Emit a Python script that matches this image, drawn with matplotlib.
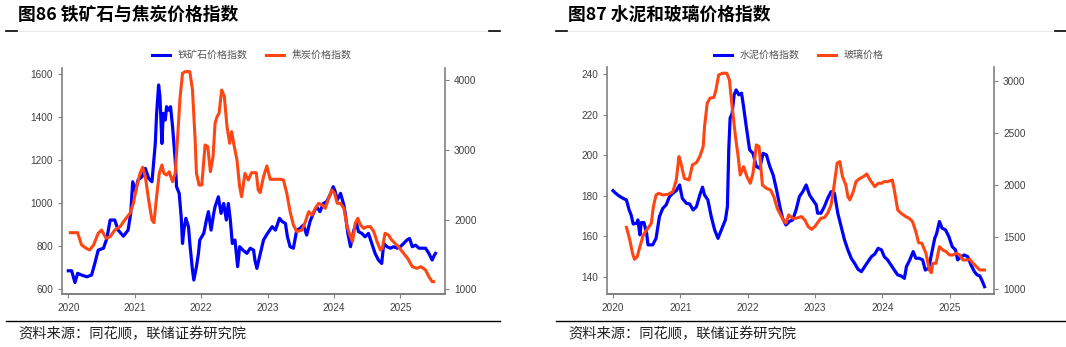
import matplotlib
matplotlib.use("Agg")
import matplotlib.pyplot as plt
from matplotlib.lines import Line2D

plt.rcParams['font.family'] = ['Noto Sans CJK SC', 'DejaVu Sans']

# ---- 图86 data (decimal year, value) ----
iron_t = [2020.00, 2020.05, 2020.10, 2020.14, 2020.20, 2020.28, 2020.35, 2020.40, 2020.45, 2020.53,
          2020.58, 2020.63, 2020.70, 2020.75, 2020.83, 2020.90, 2020.94, 2020.97, 2021.01, 2021.05,
          2021.11, 2021.16, 2021.21, 2021.26, 2021.31, 2021.33, 2021.36, 2021.38, 2021.41, 2021.43,
          2021.46, 2021.48, 2021.51, 2021.54, 2021.57, 2021.61, 2021.63, 2021.67, 2021.70, 2021.72,
          2021.74, 2021.77, 2021.81, 2021.83, 2021.87, 2021.89, 2021.93, 2021.96, 2021.98, 2022.04,
          2022.08, 2022.11, 2022.15, 2022.19, 2022.21, 2022.26, 2022.30, 2022.34, 2022.38, 2022.41,
          2022.44, 2022.47, 2022.51, 2022.55, 2022.58, 2022.63, 2022.69, 2022.74, 2022.79, 2022.81,
          2022.84, 2022.88, 2022.94, 2023.00, 2023.07, 2023.12, 2023.18, 2023.22, 2023.27, 2023.30,
          2023.34, 2023.39, 2023.44, 2023.49, 2023.54, 2023.59, 2023.64, 2023.69, 2023.74, 2023.79,
          2023.84, 2023.89, 2023.94, 2023.99, 2024.02, 2024.05, 2024.10, 2024.15, 2024.17, 2024.21,
          2024.25, 2024.30, 2024.34, 2024.37, 2024.42, 2024.47, 2024.52, 2024.57, 2024.62, 2024.67,
          2024.72, 2024.75, 2024.80, 2024.85, 2024.90, 2024.95, 2025.00, 2025.05, 2025.10, 2025.14,
          2025.18, 2025.23, 2025.28, 2025.33, 2025.38, 2025.43, 2025.48, 2025.50, 2025.53]
iron_v = [685, 685, 630, 673, 665, 657, 665, 720, 781, 790,
          835, 921, 921, 874, 846, 874, 952, 1099, 1053, 1107,
          1122, 1161, 1115, 1099, 1277, 1417, 1549, 1494, 1277, 1417,
          1386, 1448, 1432, 1448, 1355, 1200, 1076, 1045, 936, 812,
          874, 929, 890, 812, 688, 642, 704, 766, 828, 859,
          921, 960, 874, 952, 983, 1029, 952, 998, 921, 998,
          921, 812, 828, 704, 797, 781, 766, 790, 781, 735,
          696, 750, 828, 859, 890, 874, 929, 914, 905, 843,
          797, 790, 874, 882, 898, 851, 914, 952, 983, 960,
          998, 1006, 1037, 1076, 1053, 1014, 1045, 990, 952, 859,
          797, 874, 905, 867, 859, 843, 859, 812, 766, 735,
          719, 812, 797, 790, 797, 790, 797, 812, 828, 835,
          797, 804, 790, 790, 790, 766, 735, 750, 766]

coke_t = [2020.03, 2020.14, 2020.20, 2020.27, 2020.32, 2020.38, 2020.45, 2020.50, 2020.57, 2020.63,
          2020.70, 2020.78, 2020.85, 2020.93, 2020.98, 2021.03, 2021.08, 2021.12, 2021.16, 2021.21,
          2021.26, 2021.29, 2021.33, 2021.37, 2021.41, 2021.44, 2021.48, 2021.52, 2021.57, 2021.61,
          2021.65, 2021.68, 2021.72, 2021.76, 2021.83, 2021.87, 2021.91, 2021.93, 2021.97, 2022.01,
          2022.06, 2022.10, 2022.14, 2022.18, 2022.21, 2022.24, 2022.27, 2022.31, 2022.35, 2022.39,
          2022.43, 2022.46, 2022.49, 2022.54, 2022.58, 2022.61, 2022.66, 2022.71, 2022.76, 2022.83,
          2022.86, 2022.89, 2022.94, 2022.99, 2023.04, 2023.12, 2023.19, 2023.24, 2023.29, 2023.34,
          2023.39, 2023.44, 2023.52, 2023.57, 2023.62, 2023.67, 2023.72, 2023.77, 2023.82, 2023.87,
          2023.92, 2023.97, 2024.01, 2024.05, 2024.10, 2024.15, 2024.20, 2024.25, 2024.28, 2024.32,
          2024.36, 2024.40, 2024.45, 2024.50, 2024.55, 2024.60, 2024.65, 2024.70, 2024.73, 2024.77,
          2024.82, 2024.87, 2024.92, 2024.97, 2025.05, 2025.11, 2025.18, 2025.25, 2025.31, 2025.38,
          2025.43, 2025.48, 2025.50]
coke_v = [1812, 1812, 1635, 1588, 1564, 1635, 1803, 1850, 1731, 1755,
          1850, 1898, 1994, 2089, 2233, 2471, 2662, 2749, 2615, 2280,
          1994, 1956, 2328, 2662, 2782, 2662, 2638, 2686, 2543, 2662,
          3236, 3714, 4096, 4120, 4120, 3858, 3140, 2662, 2495, 2495,
          3069, 3045, 2686, 2902, 3379, 3475, 3523, 3857, 3762, 3332,
          3093, 3260, 3093, 2854, 2472, 2328, 2662, 2567, 2672, 2672,
          2424, 2386, 2615, 2768, 2577, 2577, 2577, 2567, 2376, 2113,
          1922, 1827, 1850, 1970, 2113, 2065, 2161, 2233, 2209, 2161,
          2304, 2424, 2376, 2233, 2233, 2161, 1898, 1755, 1683, 1946,
          2018, 1922, 1874, 1898, 1898, 1827, 1683, 1564, 1588, 1803,
          1779, 1707, 1659, 1612, 1516, 1444, 1325, 1301, 1325, 1277,
          1182, 1110, 1110]

# ---- 图87 data ----
cement_t = [2020.00, 2020.04, 2020.09, 2020.15, 2020.20, 2020.24, 2020.27, 2020.30, 2020.35, 2020.37,
            2020.40, 2020.42, 2020.46, 2020.50, 2020.52, 2020.59, 2020.64, 2020.69, 2020.74, 2020.79,
            2020.84, 2020.89, 2020.94, 2020.99, 2021.03, 2021.09, 2021.14, 2021.19, 2021.24, 2021.29,
            2021.33, 2021.36, 2021.41, 2021.46, 2021.51, 2021.56, 2021.59, 2021.63, 2021.67, 2021.70,
            2021.72, 2021.74, 2021.77, 2021.80, 2021.83, 2021.87, 2021.91, 2021.94, 2021.98, 2022.03,
            2022.08, 2022.13, 2022.18, 2022.23, 2022.28, 2022.33, 2022.38, 2022.43, 2022.48, 2022.52,
            2022.57, 2022.62, 2022.67, 2022.72, 2022.77, 2022.82, 2022.87, 2022.92, 2022.97, 2023.02,
            2023.04, 2023.09, 2023.14, 2023.19, 2023.24, 2023.29, 2023.34, 2023.39, 2023.44, 2023.49,
            2023.54, 2023.59, 2023.64, 2023.69, 2023.74, 2023.79, 2023.84, 2023.89, 2023.94, 2023.99,
            2024.03, 2024.08, 2024.13, 2024.18, 2024.23, 2024.28, 2024.33, 2024.36, 2024.41, 2024.46,
            2024.50, 2024.55, 2024.60, 2024.64, 2024.69, 2024.74, 2024.78, 2024.81, 2024.85, 2024.89,
            2024.94, 2024.99, 2025.04, 2025.09, 2025.12, 2025.17, 2025.22, 2025.27, 2025.32, 2025.37,
            2025.41, 2025.45, 2025.49, 2025.52]
cement_v = [182.5, 181.2, 179.9, 178.7, 177.9, 173.0, 170.5, 166.1, 166.4, 168.1,
            160.7, 166.8, 166.8, 161.5, 155.8, 155.8, 159.0, 169.7, 173.8, 175.5,
            179.6, 181.2, 182.5, 185.3, 178.7, 176.3, 175.9, 173.0, 174.6, 180.4,
            184.2, 180.4, 177.9, 169.7, 163.2, 159.0, 161.5, 164.8, 168.1, 174.6,
            202.6, 218.2, 220.6, 229.7, 232.1, 229.7, 230.5, 223.9, 214.1, 202.6,
            200.9, 194.4, 193.5, 200.9, 200.1, 194.4, 190.2, 182.9, 174.6, 168.9,
            165.6, 167.3, 168.1, 173.0, 179.6, 182.0, 185.3, 180.4, 177.9, 175.5,
            171.4, 171.4, 174.6, 178.7, 182.0, 181.2, 171.4, 164.8, 158.2, 153.3,
            149.2, 146.7, 143.8, 142.6, 145.1, 147.6, 150.0, 151.3, 154.1, 153.3,
            150.0, 148.4, 145.9, 143.4, 141.0, 140.5, 139.3, 145.1, 148.4, 152.5,
            149.2, 149.2, 148.4, 143.4, 144.3, 152.5, 159.0, 161.5, 167.3, 164.0,
            163.2, 159.9, 154.9, 153.3, 148.4, 150.0, 150.8, 150.0, 145.9, 142.6,
            141.0, 140.5, 137.7, 135.2]

glass_t = [2020.20, 2020.25, 2020.29, 2020.32, 2020.36, 2020.40, 2020.45, 2020.50, 2020.57, 2020.60,
           2020.64, 2020.68, 2020.74, 2020.82, 2020.89, 2020.94, 2020.98, 2021.01, 2021.06, 2021.13,
           2021.18, 2021.24, 2021.29, 2021.34, 2021.36, 2021.40, 2021.44, 2021.50, 2021.53, 2021.57,
           2021.63, 2021.69, 2021.73, 2021.77, 2021.82, 2021.86, 2021.89, 2021.94, 2021.99, 2022.04,
           2022.08, 2022.13, 2022.17, 2022.22, 2022.28, 2022.34, 2022.39, 2022.44, 2022.49, 2022.53,
           2022.57, 2022.61, 2022.67, 2022.72, 2022.80, 2022.85, 2022.90, 2022.95, 2023.00, 2023.04,
           2023.09, 2023.14, 2023.19, 2023.24, 2023.29, 2023.33, 2023.37, 2023.41, 2023.46, 2023.49,
           2023.52, 2023.57, 2023.61, 2023.67, 2023.72, 2023.77, 2023.82, 2023.89, 2023.94, 2023.99,
           2024.03, 2024.08, 2024.15, 2024.18, 2024.23, 2024.28, 2024.35, 2024.40, 2024.45, 2024.50,
           2024.54, 2024.59, 2024.65, 2024.70, 2024.73, 2024.75, 2024.80, 2024.85, 2024.90, 2024.95,
           2025.00, 2025.05, 2025.10, 2025.15, 2025.20, 2025.25, 2025.30, 2025.35, 2025.40, 2025.45,
           2025.52]
glass_v = [1596, 1474, 1346, 1288, 1314, 1410, 1522, 1570, 1635, 1795,
           1907, 1923, 1907, 1913, 1939, 2051, 2276, 2212, 2067, 2051,
           2196, 2218, 2276, 2372, 2564, 2788, 2837, 2846, 2917, 3061,
           3077, 3077, 3013, 2756, 2468, 2276, 2099, 2179, 2083, 2019,
           2115, 2388, 2372, 2003, 1971, 1955, 1891, 1779, 1715, 1667,
           1635, 1715, 1683, 1683, 1699, 1667, 1603, 1577, 1603, 1641,
           1683, 1689, 1731, 1811, 2019, 2212, 2228, 2083, 2003, 1891,
           1859, 1939, 2035, 2067, 2083, 2109, 2051, 1987, 2019, 2019,
           2035, 2035, 2051, 1955, 1763, 1731, 1699, 1683, 1651, 1554,
           1449, 1442, 1346, 1186, 1160, 1250, 1250, 1410, 1378, 1362,
           1330, 1330, 1346, 1330, 1282, 1282, 1288, 1250, 1218, 1186,
           1186]

years = [2020, 2021, 2022, 2023, 2024, 2025]

BLUE = '#0000FF'
ORANGE = '#FF4512'
GRAY = '#808080'
W, H = 1066, 347

fig = plt.figure(figsize=(W / 100, H / 100), dpi=100)


def fx(px):
    return px / W


def fy(py):
    return 1 - py / H


def style_axes(ax, ax2):
    for a in (ax, ax2):
        a.spines['top'].set_visible(False)
        for s in ('left', 'right', 'bottom'):
            a.spines[s].set_color(GRAY)
            a.spines[s].set_linewidth(1.2)
        a.tick_params(colors=GRAY, labelcolor='#404040', labelsize=7.2, length=3, width=0.8)
        for lab in a.get_xticklabels() + a.get_yticklabels():
            lab.set_family('Liberation Sans')
    ax.spines['right'].set_visible(False)
    ax2.spines['left'].set_visible(False)
    ax.set_xticks(years)
    ax.set_xticklabels([str(y) for y in years], family='Liberation Sans')
    ax.patch.set_visible(False)


def panel(rect, t1, v1, t2, v2, ylim1, yt1, ylim2, yt2, xlim, labels, leg_cx):
    ax = fig.add_axes(rect)
    ax2 = ax.twinx()
    ax.plot(t1, v1, color=BLUE, lw=2.3)
    ax2.plot(t2, v2, color=ORANGE, lw=2.2)
    ax.set_xlim(*xlim)
    ax.set_ylim(*ylim1)
    ax.set_yticks(yt1)
    ax2.set_ylim(*ylim2)
    ax2.set_yticks(yt2)
    style_axes(ax, ax2)
    handles = [Line2D([], [], color=BLUE, lw=2.2), Line2D([], [], color=ORANGE, lw=2.2)]
    fig.legend(handles, labels, loc='center', bbox_to_anchor=(leg_cx, fy(55)), ncol=2,
               frameon=False, fontsize=7.2, labelcolor='#555555', handlelength=1.8,
               handletextpad=0.8, columnspacing=1.8)
    return ax, ax2


def frame(x0, x1, title, tx):
    fig.text(fx(tx), fy(15), title, fontsize=12.8, fontweight='bold', va='center', ha='left')
    fig.add_artist(Line2D([fx(x0 + 12), fx(x1 - 12)], [fy(31), fy(31)], color='#e8e8e8', lw=0.8))
    fig.add_artist(Line2D([fx(x0), fx(x0 + 11)], [fy(31), fy(31)], color='black', lw=1.2))
    fig.add_artist(Line2D([fx(x1 - 11), fx(x1)], [fy(31), fy(31)], color='black', lw=1.2))
    fig.add_artist(Line2D([fx(x0), fx(x1)], [fy(320.5), fy(320.5)], color='black', lw=1.0))
    fig.text(fx(tx), fy(334), '资料来源：同花顺，联储证券研究院', fontsize=10.3, va='center',
             ha='left', color='#222222')


frame(6, 500, '图86 铁矿石与焦炭价格指数', 18)
frame(556, 1066, '图87 水泥和玻璃价格指数', 568)

panel([fx(62), fy(294), fx(445) - fx(62), fy(68) - fy(294)],
      iron_t, iron_v, coke_t, coke_v,
      (577, 1628), [600, 800, 1000, 1200, 1400, 1600],
      (933, 4172), [1000, 2000, 3000, 4000],
      (2019.905, 2025.673), ['铁矿石价格指数', '焦炭价格指数'], fx(252))

panel([fx(607), fy(294), fx(994) - fx(607), fy(67) - fy(294)],
      cement_t, cement_v, glass_t, glass_v,
      (131.6, 243.4), [140, 160, 180, 200, 220, 240],
      (955, 3137), [1000, 1500, 2000, 2500, 3000],
      (2019.911, 2025.661), ['水泥价格指数', '玻璃价格'], fx(799))

fig.savefig('out.png', dpi=100)
